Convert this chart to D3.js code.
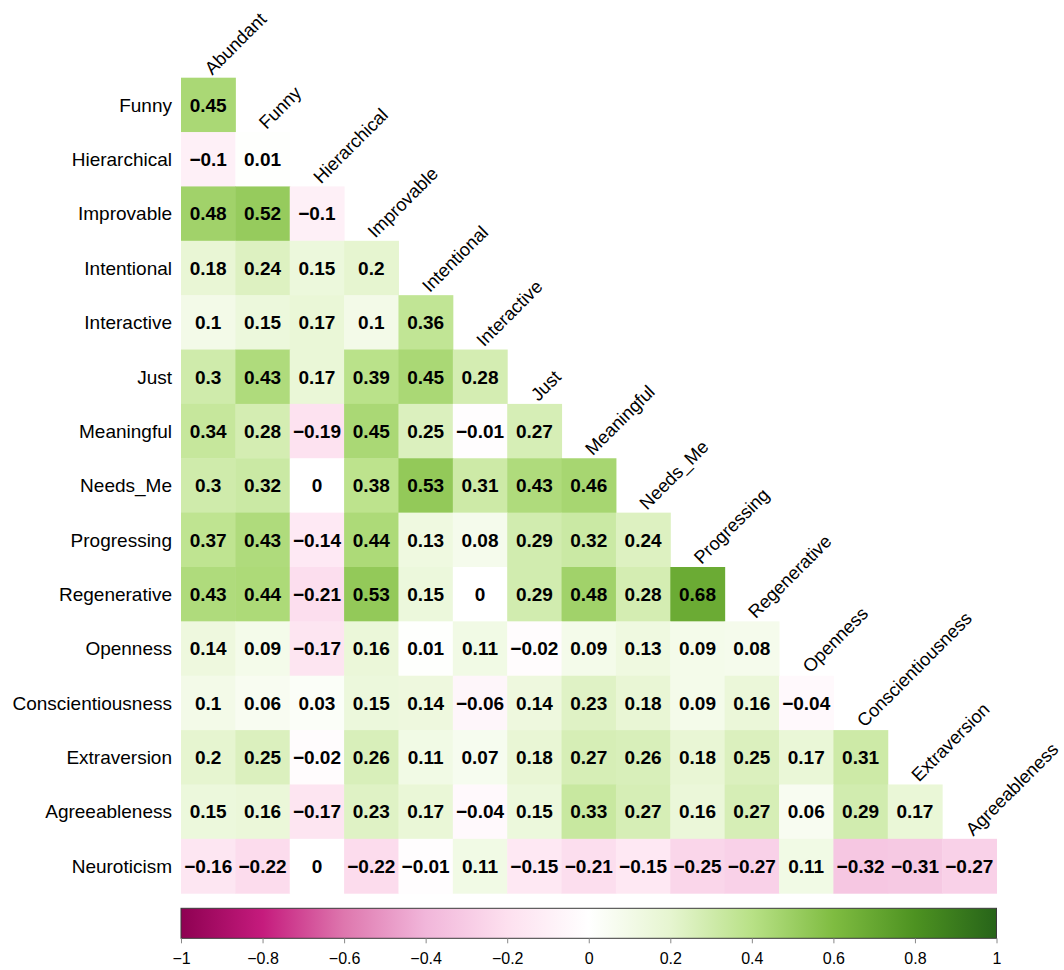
<!DOCTYPE html>
<html>
<head>
<meta charset="utf-8">
<script src="https://cdn.jsdelivr.net/npm/d3@7"></script>
<style>
  body { margin: 0; background: #fff; }
  text { font-family: "Liberation Sans", Arial, Helvetica, sans-serif; }
</style>
</head>
<body>
<svg id="chart"></svg>
<script>
// --- Data ---
const rowNames = ["Funny", "Hierarchical", "Improvable", "Intentional", "Interactive", "Just",
    "Meaningful", "Needs_Me", "Progressing", "Regenerative", "Openness", "Conscientiousness",
    "Extraversion", "Agreeableness", "Neuroticism"];
const colNames = ["Abundant", "Funny", "Hierarchical", "Improvable", "Intentional", "Interactive",
    "Just", "Meaningful", "Needs_Me", "Progressing", "Regenerative", "Openness",
    "Conscientiousness", "Extraversion", "Agreeableness"];

// lower triangle, one list per row
const corrRows = [
    [0.45],
    [-0.1, 0.01],
    [0.48, 0.52, -0.1],
    [0.18, 0.24, 0.15, 0.2],
    [0.1, 0.15, 0.17, 0.1, 0.36],
    [0.3, 0.43, 0.17, 0.39, 0.45, 0.28],
    [0.34, 0.28, -0.19, 0.45, 0.25, -0.01, 0.27],
    [0.3, 0.32, 0, 0.38, 0.53, 0.31, 0.43, 0.46],
    [0.37, 0.43, -0.14, 0.44, 0.13, 0.08, 0.29, 0.32, 0.24],
    [0.43, 0.44, -0.21, 0.53, 0.15, 0, 0.29, 0.48, 0.28, 0.68],
    [0.14, 0.09, -0.17, 0.16, 0.01, 0.11, -0.02, 0.09, 0.13, 0.09, 0.08],
    [0.1, 0.06, 0.03, 0.15, 0.14, -0.06, 0.14, 0.23, 0.18, 0.09, 0.16, -0.04],
    [0.2, 0.25, -0.02, 0.26, 0.11, 0.07, 0.18, 0.27, 0.26, 0.18, 0.25, 0.17, 0.31],
    [0.15, 0.16, -0.17, 0.23, 0.17, -0.04, 0.15, 0.33, 0.27, 0.16, 0.27, 0.06, 0.29, 0.17],
    [-0.16, -0.22, 0, -0.22, -0.01, 0.11, -0.15, -0.21, -0.15, -0.25, -0.27, 0.11, -0.32, -0.31, -0.27]
];

const legendTicks = [-1, -0.8, -0.6, -0.4, -0.2, 0, 0.2, 0.4, 0.6, 0.8, 1];
const paletteStops = [-1, -0.8, -0.6, -0.4, -0.2, 0, 0.2, 0.4, 0.6, 0.8, 1];
const paletteColors = ["#8e0152", "#c51b7d", "#de77ae", "#f1b6da", "#fde0ef", "#ffffff",
    "#e6f5d0", "#b8e186", "#7fbc41", "#4d9221", "#276419"];

// --- Layout ---
const width = 1064;
const height = 970;
const margin = { left: 181, top: 77.7 };
const gridW = 815.5;

const svg = d3.select("#chart").attr("width", width).attr("height", height);

const x = d3.scaleBand().domain(colNames.map((d, i) => i)).range([margin.left, margin.left + gridW]);
const y = d3.scaleBand().domain(rowNames.map((d, i) => i)).range([margin.top, margin.top + gridW]);

const color = d3.scaleLinear().domain(paletteStops).range(paletteColors).interpolate(d3.interpolateRgb);

const fmt = (v) => {
    const s = String(Math.abs(v));
    return v < 0 ? "\u2212" + s : s;
};

const cells = [];
corrRows.forEach((row, i) => row.forEach((v, j) => cells.push({ i, j, v })));

// --- Cells ---
svg.append("g")
    .selectAll("rect")
    .data(cells)
    .join("rect")
    .attr("x", (d) => x(d.j))
    .attr("y", (d) => y(d.i))
    .attr("width", x.bandwidth() + 0.5)
    .attr("height", y.bandwidth() + 0.5)
    .attr("fill", (d) => color(d.v));

svg.append("g")
    .selectAll("text")
    .data(cells)
    .join("text")
    .attr("x", (d) => x(d.j) + x.bandwidth() / 2)
    .attr("y", (d) => y(d.i) + y.bandwidth() / 2)
    .attr("dy", "0.36em")
    .attr("text-anchor", "middle")
    .attr("font-size", 19)
    .attr("font-weight", "bold")
    .attr("fill", "#000")
    .text((d) => fmt(d.v));

// --- Row labels ---
svg.append("g")
    .selectAll("text")
    .data(rowNames)
    .join("text")
    .attr("x", margin.left - 9)
    .attr("y", (d, i) => y(i) + y.bandwidth() / 2)
    .attr("dy", "0.36em")
    .attr("text-anchor", "end")
    .attr("font-size", 19)
    .text((d) => d);

// --- Column labels (diagonal) ---
svg.append("g")
    .selectAll("text")
    .data(colNames)
    .join("text")
    .attr("transform", (d, j) => {
        const cx = x(j) + x.bandwidth() / 2 + 4;
        const cy = y(j) - 2;
        return `translate(${cx},${cy}) rotate(-45)`;
    })
    .attr("text-anchor", "start")
    .attr("font-size", 18.3)
    .text((d) => d);

// --- Colour bar ---
const barTop = 908.3;
const barH = 30;
const xLeg = d3.scaleLinear().domain([-1, 1]).range([margin.left, margin.left + gridW]);

const defs = svg.append("defs");
const grad = defs.append("linearGradient").attr("id", "legendGrad");
grad.selectAll("stop")
    .data(paletteStops)
    .join("stop")
    .attr("offset", (d) => ((d + 1) / 2) * 100 + "%")
    .attr("stop-color", (d) => color(d));

svg.append("rect")
    .attr("x", xLeg(-1))
    .attr("y", barTop)
    .attr("width", xLeg(1) - xLeg(-1))
    .attr("height", barH)
    .attr("fill", "url(#legendGrad)")
    .attr("stroke", "#3a3a3a")
    .attr("stroke-width", 1);

const legAxis = svg.append("g")
    .attr("transform", `translate(0,${barTop + barH})`)
    .call(d3.axisBottom(xLeg).tickValues(legendTicks).tickSize(5).tickFormat(fmt));
legAxis.select(".domain").remove();
legAxis.selectAll(".tick line").attr("stroke", "#888");
legAxis.selectAll(".tick text")
    .attr("font-size", 16)
    .attr("font-family", "Liberation Sans, Arial, sans-serif")
    .attr("fill", "#000")
    .attr("y", 25.5)
    .attr("dy", 0);
</script>
</body>
</html>
